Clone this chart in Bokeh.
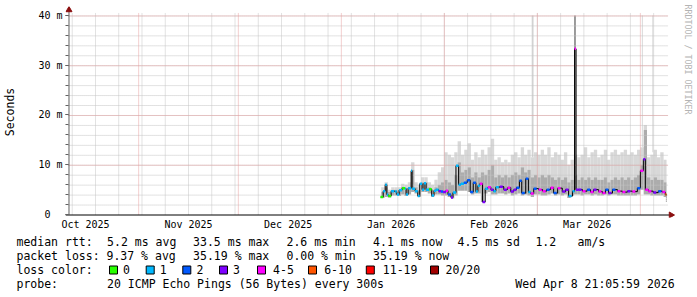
import numpy as np
import pandas as pd
from math import pi
from bokeh.plotting import figure
from bokeh.layouts import column
from bokeh.models import Range1d, FixedTicker, LinearAxis
from bokeh.core.properties import value
from bokeh.embed import file_html
from bokeh.resources import INLINE

MONO = "DejaVu Sans Mono"

# ---------------- data ----------------
# median RTT steps: time in days since 2026-01-01 00:00, value in ms, loss class index
med_day = [11.8, 12.6, 13.2, 13.7, 14.1, 15.0, 16.2, 16.7, 17.4, 18.3,
           19.2, 19.5, 20.1, 21.0, 21.3, 22.2, 23.0, 23.6, 24.3, 24.9,
           25.5, 26.4, 27.2, 27.9, 28.5, 29.3, 30.0, 30.6, 31.5, 32.1,
           33.0, 33.6, 34.5, 35.3, 36.0, 36.9, 37.9, 38.8, 39.7, 40.5,
           41.1, 41.7, 42.5, 43.3, 44.1, 45.0, 45.8, 46.5, 47.7, 48.9,
           50.0, 51.0, 51.9, 52.7, 53.6, 54.3, 55.5, 56.3, 57.0, 57.9,
           59.4, 60.6, 61.8, 63.0, 63.9, 65.1, 66.5, 67.5, 68.4, 69.6,
           70.2, 70.65, 71.4, 72.6, 74.0, 75.0, 75.9, 77.4, 78.6, 79.5,
           80.4, 81.6, 83.1, 84.6, 86.1, 87.6, 89.1, 90.0, 90.9, 91.5,
           92.4, 93.9, 95.4, 96.6, 97.5]
med_ms = [3.5, 4.7, 6.0, 4.0, 3.7, 4.7, 4.6, 4.0, 4.9, 5.3,
          5.2, 4.0, 5.3, 8.8, 5.2, 4.7, 3.7, 6.2, 5.0, 6.3,
          5.0, 5.1, 3.8, 4.8, 5.0, 4.7, 4.6, 4.5, 4.8, 4.0,
          3.4, 4.4, 9.8, 6.0, 6.2, 6.4, 6.9, 4.5, 6.4, 4.6,
          5.8, 6.2, 2.5, 5.2, 5.5, 5.0, 4.7, 5.5, 5.6, 5.0,
          5.4, 4.6, 5.0, 5.4, 6.8, 4.3, 7.2, 4.5, 4.2, 5.2,
          5.0, 4.7, 5.0, 5.4, 4.3, 5.3, 4.6, 5.0, 3.7, 4.7,
          33.3, 5.0, 5.0, 4.7, 5.0, 4.5, 5.0, 4.6, 4.3, 5.0,
          4.3, 5.0, 4.7, 4.5, 4.7, 4.6, 5.3, 8.8, 11.1, 5.0,
          4.7, 4.4, 4.7, 4.5, 4.0]
med_loss = [0, 1, 1, 1, 0, 1, 1, 1, 1, 0,
            1, 1, 1, 1, 1, 1, 1, 1, 1, 1,
            1, 0, 1, 1, 1, 3, 2, 3, 4, 2,
            3, 1, 1, 1, 1, 2, 2, 2, 2, 1,
            1, 4, 3, 1, 4, 3, 1, 1, 3, 3,
            4, 3, 3, 2, 2, 2, 2, 1, 4, 2,
            4, 4, 2, 4, 2, 4, 3, 3, 1, 1,
            4, 3, 3, 4, 2, 4, 3, 4, 4, 2,
            3, 2, 4, 4, 3, 4, 2, 4, 3, 4,
            4, 3, 2, 4, 5]

# smoke (ping spread) per one-day bin, ms
smk_day = list(range(12, 98))
smk_lo = [3.3, 3.5, 3.4, 3.8, 3.8, 3.7, 4.0, 3.7, 4.0, 4.5,
          4.2, 3.5, 4.5, 4.5, 4.2, 3.5, 4.0, 4.0, 3.8, 3.8,
          3.5, 3.2, 3.8, 4.8, 4.8, 4.8, 4.5, 4.0, 4.2, 4.2,
          2.5, 4.2, 4.5, 4.0, 4.0, 4.2, 4.2, 4.0, 4.2, 3.8,
          4.0, 4.2, 3.8, 4.0, 3.8, 3.5, 4.0, 4.0, 3.8, 3.8,
          4.0, 4.2, 3.8, 4.0, 3.8, 4.0, 3.3, 3.8, 4.0, 4.0,
          3.8, 4.0, 4.0, 3.8, 4.0, 3.8, 3.8, 4.0, 3.8, 4.0,
          4.0, 3.8, 3.8, 3.8, 3.8, 3.8, 3.8, 4.0, 5.0, 4.0,
          4.0, 3.8, 3.8, 3.8, 3.8, 3.5]
smk_mid = [4.5, 5.5, 4.5, 5.0, 5.0, 5.0, 5.6, 5.3, 5.6, 9.0,
           5.5, 5.0, 6.5, 6.5, 5.5, 5.0, 5.5, 6.0, 6.5, 7.0,
           6.5, 6.0, 8.0, 10.5, 8.5, 9.0, 9.5, 7.5, 8.5, 7.5,
           8.5, 8.0, 9.0, 10.0, 7.5, 8.0, 7.5, 8.0, 7.5, 8.0,
           8.5, 8.0, 9.5, 8.5, 9.0, 7.5, 8.0, 7.5, 8.0, 7.5,
           8.0, 7.5, 7.0, 7.5, 7.0, 7.5, 6.5, 7.0, 8.0, 7.0,
           7.5, 7.0, 7.5, 7.0, 7.5, 7.0, 7.0, 7.5, 6.5, 7.0,
           7.5, 7.0, 7.5, 7.0, 7.5, 7.0, 7.5, 8.0, 10.0, 17.0,
           7.5, 7.0, 7.5, 7.0, 7.0, 6.5]
smk_hi = [5.5, 6.5, 5.0, 5.5, 5.5, 5.5, 6.2, 6.0, 6.5, 10.5,
          6.5, 6.0, 7.5, 7.5, 6.5, 6.0, 7.0, 8.5, 9.5, 12.5,
          12.0, 11.5, 12.5, 14.7, 12.0, 13.0, 14.3, 11.0, 12.5, 11.5,
          13.0, 12.0, 13.5, 15.2, 11.0, 11.5, 10.5, 11.0, 10.5, 12.0,
          12.5, 11.5, 13.5, 12.0, 13.0, 11.5, 12.5, 12.0, 13.0, 12.0,
          13.5, 11.5, 12.5, 12.0, 11.0, 12.5, 10.0, 11.0, 12.0, 11.5,
          12.0, 13.5, 11.5, 12.5, 13.0, 11.5, 12.0, 13.0, 11.0, 12.5,
          13.0, 12.0, 12.5, 13.0, 12.0, 12.5, 12.0, 13.0, 13.5, 18.0,
          11.5, 12.0, 13.0, 11.5, 12.5, 11.0]

# isolated tall smoke streaks
spk_day0 = [57.3, 70.1, 90.45, 93.6]
spk_day1 = [57.85, 70.55, 90.75, 93.9]
spk_lo = [11.5, 5.0, 13.5, 12.5]
spk_hi = [40.0, 40.0, 40.0, 40.0]
spk_shade = ["#d2d2d2", "#7a7a7a", "#d8d8d8", "#d8d8d8"]

last_day = 97.88
tail_ms = [4.0, 2.4]

loss_labels = ["0", "1", "2", "3", "4-5", "6-10", "11-19", "20/20"]
loss_colors = ["#26ff00", "#00b8ff", "#0059ff", "#7e00ff",
               "#ff00ff", "#ff5500", "#ff0000", "#a10000"]

x_tick_dates = ["2025-10-16", "2025-11-16", "2025-12-16",
                "2026-01-16", "2026-02-16", "2026-03-16"]
x_tick_labels = ["Oct 2025", "Nov 2025", "Dec 2025", "Jan 2026", "Feb 2026", "Mar 2026"]
month_dates = ["2025-11-01", "2025-12-01", "2026-01-01",
               "2026-02-01", "2026-03-01", "2026-04-01"]
y_ticks = [0, 10, 20, 30, 40]
y_tick_labels = ["0\u00a0\u00a0", "10 m", "20 m", "30 m", "40 m"]
y_minor = list(range(0, 41, 2))

row1_text = ["median rtt:", "5.2 ms avg", "33.5 ms max", "2.6 ms min",
             "4.1 ms now", "4.5 ms sd", "1.2", "am/s"]
row1_x = [16, 106.6, 192.6, 286, 372.6, 457.1, 534.9, 577.1]
row2_text = ["packet loss:", "9.37 % avg", "35.19 % max", "0.00 % min", "35.19 % now"]
row2_x = [16, 106, 192.6, 286, 372.6]
box_x = [109, 145.7, 182.3, 219, 257, 308, 365.8, 430]
box_label_x = [122.6, 159.3, 196, 232.6, 272.6, 323.7, 382.3, 445.1]
probe_text = "20 ICMP Echo Pings (56 Bytes) every 300s"
date_text = "Wed Apr  8 21:05:59 2026"
watermark = "RRDTOOL / TOBI OETIKER"

# ---------------- helpers ----------------
BASE = pd.Timestamp("2026-01-01")
DAY = 86400000


def to_dt(days):
    return (BASE + pd.to_timedelta(np.asarray(days, dtype=float), unit="D")).to_numpy()


def ms(ts):
    return int(pd.Timestamp(ts).value // 10**6)


t_start = pd.Timestamp("2025-10-10 21:06")   # left edge of the graph area (canvas x = 66)
px_per_day = 600.0 / 180.0
X0 = ms(t_start)


def at_px(px):
    """time (ms) shown at canvas pixel column px (layout helper)"""
    return X0 + (px - 66) / px_per_day * DAY


grid_x_end = at_px(668)
grid_y_top = 40.6
HALF = 0.1   # half a pixel in ms units, keeps 1px lines crisp

p = figure(width=697, height=232, x_axis_type="datetime",
           x_range=Range1d(at_px(63), at_px(676)), y_range=Range1d(-0.6, 41.8),
           output_backend="svg", toolbar_location=None,
           min_border_left=63, min_border_right=21, min_border_top=6, min_border_bottom=14)
p.outline_line_color = None
p.background_fill_color = "white"
p.border_fill_color = "white"
p.grid.visible = False
try:
    p.frame_align = False
except Exception:
    pass

# left axis (ticks and labels only; axis line drawn below)
p.yaxis.ticker = FixedTicker(ticks=y_ticks, minor_ticks=y_minor)
p.yaxis.major_label_overrides = {t: lab for t, lab in zip(y_ticks, y_tick_labels)}
p.yaxis.major_label_text_font = MONO
p.yaxis.major_label_text_font_size = "10px"
p.yaxis.major_label_text_color = "black"
p.yaxis.major_label_standoff = 3
p.yaxis.axis_line_color = None
p.yaxis.major_tick_out = 0
p.yaxis.major_tick_in = 3
p.yaxis.minor_tick_out = 0
p.yaxis.minor_tick_in = 3
p.yaxis.major_tick_line_color = "#606060"
p.yaxis.minor_tick_line_color = "#606060"
p.yaxis.axis_label = "Seconds"
p.yaxis.axis_label_text_font = MONO
p.yaxis.axis_label_text_font_size = "11.5px"
p.yaxis.axis_label_text_font_style = "normal"
p.yaxis.axis_label_text_color = "black"
p.yaxis.axis_label_standoff = 18

x_ticks = [ms(d) for d in x_tick_dates]
p.xaxis.ticker = FixedTicker(ticks=x_ticks, minor_ticks=[])
p.xaxis.major_label_overrides = {t: lab for t, lab in zip(x_ticks, x_tick_labels)}
p.xaxis.major_label_text_font = MONO
p.xaxis.major_label_text_font_size = "10px"
p.xaxis.major_label_text_color = "black"
p.xaxis.major_label_standoff = 1
p.xaxis.axis_line_color = None
p.xaxis.major_tick_out = 0
p.xaxis.major_tick_in = 0
p.xaxis.minor_tick_out = 0
p.xaxis.minor_tick_in = 0

# right axis carrying the vertical watermark; trailing no-break spaces lift it to the top
wm = LinearAxis(ticker=FixedTicker(ticks=[]),
                axis_label=watermark + "\u00a0" * 21, axis_line_color=None,
                major_tick_line_color=None, minor_tick_line_color=None,
                axis_label_standoff=6, axis_label_text_font=MONO,
                axis_label_text_font_size="8.3px", axis_label_text_font_style="normal",
                axis_label_text_color="#b4b4b4")
p.add_layout(wm, "right")

# smoke
left = to_dt(smk_day)
right = to_dt([min(d + 1, last_day) for d in smk_day])
p.quad(left=left, right=right, bottom=smk_mid, top=smk_hi,
       fill_color="#d8d8d8", line_color=None, level="image")
p.quad(left=left, right=right, bottom=smk_lo, top=smk_mid,
       fill_color="#acacac", line_color=None, level="image")
p.quad(left=to_dt(spk_day0), right=to_dt(spk_day1), bottom=spk_lo, top=spk_hi,
       fill_color=spk_shade, line_color=None, level="image")

# grid (RRDtool style, limited to the graph area)
weeks = [ms(w) for w in pd.date_range("2025-10-12", "2026-04-05", freq="7D")]
months = [ms(m) for m in month_dates]
minor_y = [y - HALF for y in y_minor if y > 0]
major_y = [y - HALF for y in y_ticks if y > 0]
GRID_MINOR = "#c4c4c4"
GRID_MAJOR = "#e6a0a0"
p.segment(x0=weeks, x1=weeks, y0=[0] * len(weeks), y1=[grid_y_top] * len(weeks),
          line_color=GRID_MINOR, line_dash="1 1", line_width=1, level="underlay")
p.segment(x0=[X0] * len(minor_y), x1=[grid_x_end] * len(minor_y), y0=minor_y, y1=minor_y,
          line_color=GRID_MINOR, line_dash="1 1", line_width=1, level="underlay")
p.segment(x0=months, x1=months, y0=[0] * len(months), y1=[grid_y_top] * len(months),
          line_color=GRID_MAJOR, line_dash="1 1", line_width=1, level="underlay")
p.segment(x0=[X0] * len(major_y), x1=[grid_x_end] * len(major_y), y0=major_y, y1=major_y,
          line_color=GRID_MAJOR, line_dash="1 1", line_width=1, level="underlay")

# median line
step_x = to_dt(med_day + [last_day])
step_y = med_ms + [med_ms[-1]]
p.step(step_x, step_y, mode="after", line_color="black", line_width=1)

nxt = med_day[1:] + [last_day]
seg_x1 = [d + min(0.9, n - d) for d, n in zip(med_day, nxt)]
p.segment(x0=to_dt(med_day), y0=med_ms, x1=to_dt(seg_x1), y1=med_ms,
          line_color=[loss_colors[k] for k in med_loss], line_width=2.5, line_cap="butt")
p.segment(x0=to_dt([last_day - 0.05]), y0=[tail_ms[0]], x1=to_dt([last_day - 0.05]), y1=[tail_ms[1]],
          line_color="#707070", line_dash="1 1", line_width=1)

# axis lines and arrow heads
ARROW = "#8b1010"
p.segment(x0=[at_px(66.5)], x1=[at_px(66.5)], y0=[0], y1=[41.0], line_color="#606060", line_width=1)
p.segment(x0=[at_px(63)], x1=[at_px(670)], y0=[-HALF], y1=[-HALF], line_color="black", line_width=1)
p.scatter(x=[at_px(66.5)], y=[41.1], marker="triangle", size=6, fill_color=ARROW, line_color=ARROW)
p.scatter(x=[at_px(670.5)], y=[-HALF], marker="triangle", size=6, angle=-pi / 2,
          fill_color=ARROW, line_color=ARROW)

# ---------------- legend area ----------------
q = figure(width=697, height=65, x_range=Range1d(0, 697), y_range=Range1d(297, 232),
           output_backend="svg", toolbar_location=None, min_border=0,
           x_axis_location=None, y_axis_location=None)
q.grid.visible = False
q.outline_line_color = None
q.background_fill_color = "white"
q.border_fill_color = "white"
try:
    q.frame_align = False
except Exception:
    pass

FS = "11.5px"
q.text(x=row1_x, y=[241.3] * len(row1_x), text=row1_text, text_font=value(MONO),
       text_font_size=FS, text_baseline="middle", text_color="black")
q.text(x=row2_x, y=[255.3] * len(row2_x), text=row2_text, text_font=value(MONO),
       text_font_size=FS, text_baseline="middle", text_color="black")
q.text(x=[16], y=[269.3], text=["loss color:"], text_font=value(MONO),
       text_font_size=FS, text_baseline="middle", text_color="black")
q.rect(x=[b + 4 for b in box_x], y=[269.5] * len(box_x), width=8, height=8,
       fill_color=loss_colors, line_color="black", line_width=1)
q.text(x=box_label_x, y=[269.3] * len(box_label_x), text=loss_labels, text_font=value(MONO),
       text_font_size=FS, text_baseline="middle", text_color="black")
q.text(x=[16, 106.6], y=[283, 283], text=["probe:", probe_text], text_font=value(MONO),
       text_font_size=FS, text_baseline="middle", text_color="black")
q.text(x=[681], y=[283], text=[date_text], text_font=value(MONO),
       text_font_size=FS, text_baseline="middle", text_align="right", text_color="black")

layout = column(p, q, spacing=0)
open("out.html", "w").write(file_html(layout, INLINE))
